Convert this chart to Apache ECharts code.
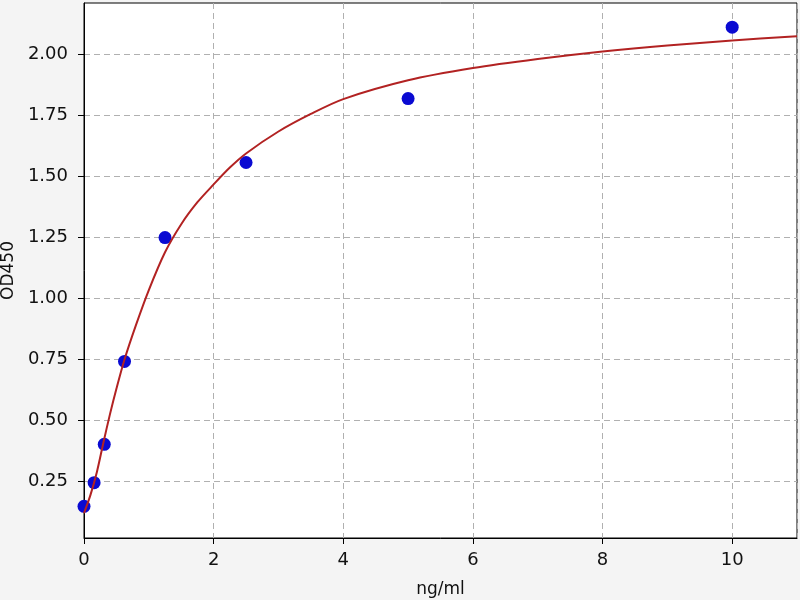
<!DOCTYPE html>
<html>
<head>
<meta charset="utf-8">
<script src="https://cdn.jsdelivr.net/npm/echarts@6/dist/echarts.min.js"></script>
<style>
  html, body { margin: 0; padding: 0; background: #f4f4f4; }
  #chart { width: 800px; height: 600px; }
</style>
</head>
<body>
<div id="chart"></div>
<script>
// standard points
let pointX = [0, 0.156, 0.3125, 0.625, 1.25, 2.5, 5, 10];
let pointY = [0.148, 0.245, 0.402, 0.742, 1.25, 1.558, 1.82, 2.113];

// fitted curve
let curveX = [0, 0.1, 0.2, 0.3, 0.4, 0.5, 0.625, 0.8, 1.0, 1.25, 1.5, 1.75, 2.0, 2.25, 2.5, 3.0, 3.5, 4.0, 5.0, 6.0, 7.0, 8.0, 9.0, 10.0, 11.0];
let curveY = [0.12, 0.195, 0.29, 0.41, 0.525, 0.63, 0.75, 0.89, 1.035, 1.19, 1.305, 1.395, 1.468, 1.537, 1.595, 1.685, 1.757, 1.818, 1.895, 1.945, 1.982, 2.013, 2.038, 2.058, 2.076];

let yTicks = [0.25, 0.5, 0.75, 1.0, 1.25, 1.5, 1.75, 2.0];

let font = "DejaVu Sans";
let chart = echarts.init(document.getElementById("chart"));

let gridLine = {
  show: true,
  lineStyle: { color: "#b0b0b0", width: 1, type: [6, 4] },
};

let option = {
  backgroundColor: "#f4f4f4",
  animation: false,
  grid: {
    left: 84,
    right: 3,
    top: 3,
    bottom: 62,
    show: true,
    backgroundColor: "#ffffff",
    borderColor: "#000000",
    borderWidth: 1,
    containLabel: false,
    outerBoundsMode: "none",
  },
  xAxis: {
    type: "value",
    min: 0,
    max: 11,
    interval: 2,
    name: "ng/ml",
    nameLocation: "middle",
    nameGap: 43,
    nameTextStyle: { fontFamily: font, fontSize: 17, color: "#111" },
    axisLine: { show: true, onZero: false, lineStyle: { color: "#000", width: 1 } },
    axisTick: { show: true, inside: false, length: 6, lineStyle: { color: "#000" } },
    axisLabel: {
      showMaxLabel: false,
      margin: 13,
      fontFamily: font,
      fontSize: 18,
      color: "#111",
    },
    splitLine: gridLine,
  },
  yAxis: {
    type: "value",
    min: 0.018,
    max: 2.212,
    name: "OD450",
    nameLocation: "middle",
    nameGap: 67,
    nameTextStyle: { fontFamily: font, fontSize: 17, color: "#111" },
    axisLine: { show: true, onZero: false, lineStyle: { color: "#000", width: 1 } },
    axisTick: {
      show: true,
      length: 6,
      customValues: yTicks,
      lineStyle: { color: "#000" },
    },
    axisLabel: {
      customValues: yTicks,
      margin: 16,
      fontFamily: font,
      fontSize: 18,
      color: "#111",
      formatter: (v) => v.toFixed(2),
    },
    splitLine: gridLine,
  },
  series: [
    {
      type: "scatter",
      z: 2,
      symbolSize: 13,
      itemStyle: { color: "#0a0ad2", opacity: 1 },
      data: pointX.map((x, i) => [x, pointY[i]]),
    },
    {
      type: "line",
      z: 3,
      smooth: 0.3,
      showSymbol: false,
      lineStyle: { color: "#b22222", width: 2 },
      data: curveX.map((x, i) => [x, curveY[i]]),
    },
  ],
};
chart.setOption(option);
</script>
</body>
</html>
